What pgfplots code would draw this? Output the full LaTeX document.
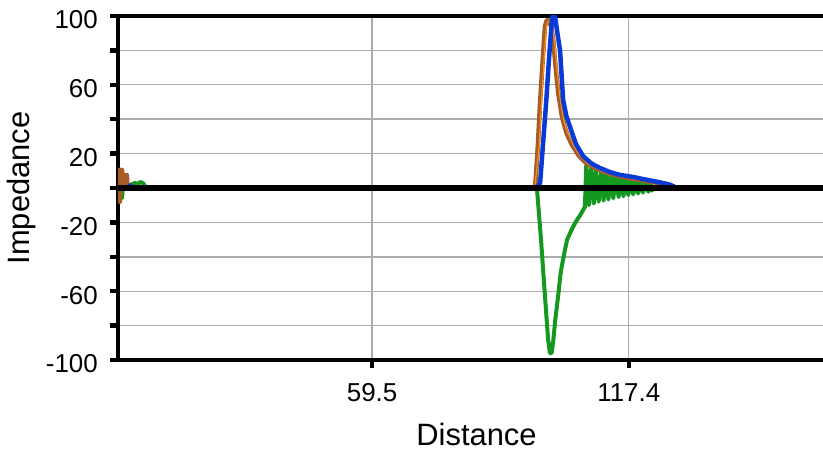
\documentclass[border=0pt]{standalone}
\usepackage{pgfplots}
\pgfplotsset{compat=1.18}
\usepackage{fontspec}
\setmainfont{Liberation Sans}
\definecolor{cblue}{RGB}{8,58,215}
\definecolor{cbrown}{RGB}{165,92,38}
\definecolor{cgreen}{RGB}{20,152,32}
\definecolor{corange}{RGB}{255,145,20}
\definecolor{cgrid}{RGB}{172,172,172}
\begin{document}
\begin{tikzpicture}
\begin{axis}[
  scale only axis,
  width=705bp, height=344bp,
  xmin=2.2, xmax=161.2,
  ymin=-100, ymax=100,
  axis x line=box, axis y line=left,
  x axis line style={-, line width=4.5bp},
  y axis line style={-, line width=4.5bp},
  xtick={59.5,117.4}, xticklabels={59.5,117.4},
  ytick={-100,-80,-60,-40,-20,0,20,40,60,80,100},
  yticklabels={-100,,-60,,-20,,20,,60,,100},
  /pgf/number format/assume math mode=true,
  tick align=outside,
  major tick length=8bp,
  tick style={black, line width=4.5bp},
  xtick pos=bottom, ytick pos=left,
  grid=major,
  major grid style={cgrid, line width=1.4bp},
  tick label style={font=\fontsize{26}{31}\selectfont, inner sep=0pt},
  yticklabel style={xshift=-12bp, yshift=-4bp},
  xticklabel style={yshift=-15bp},
  xlabel={Distance}, ylabel={Impedance},
  label style={font=\fontsize{31}{37}\selectfont},
  xlabel style={at={(rel axis cs:0.5,0)}, anchor=base, yshift=-85bp, xshift=6bp},
  ylabel style={at={(rel axis cs:0,0.5)}, anchor=center, yshift=96bp},
  clip=true,
]
% green
\addplot[cgreen, line width=4bp, line join=round] coordinates {
 (2.2,0) (3.0,0) (3.1,-6) (3.3,0) (4.9,1.7) (6.0,2.9) (6.7,2.3) (7.2,3.5) (7.8,2.9) (8.3,1.2) (8.6,0)
 (96.3,0) (96.7,-1) (97.6,-30) (98.5,-63) (99.2,-88) (99.6,-96) (100.0,-96) (100.4,-88) (100.8,-77) (101.5,-62)
 (102.0,-50) (102.4,-44) (103.0,-36) (103.5,-30) (104.2,-26) (104.8,-22.7) (105.6,-19) (106.4,-16) (107.1,-12.8)
 (107.5,-11) (107.8,13) (108.4,-10) (108.9,12) (109.5,-9) (110.0,11) (110.6,-8) (111.2,10) (111.7,-7.3)
 (112.3,9) (112.8,-6.7) (113.4,8.2) (113.9,-6) (114.5,7.5) (115.1,-5.3) (115.6,6.8) (116.2,-4.8) (116.7,6.2)
 (117.3,-4.2) (117.9,5.6) (118.4,-3.7) (119.0,5) (119.5,-3.2) (120.1,4.4) (120.6,-2.7) (121.2,3.8) (121.8,-2.2)
 (122.3,3) (122.6,-1.5) (123.0,0) (161.2,0)
};
% brown
\addplot[cbrown, line width=4.5bp, line join=round] coordinates {
 (2.2,-8) (2.4,10.5) (2.6,-8) (2.8,10.5) (3.0,0) (3.1,10.5) (3.3,0) (3.4,7.5) (3.7,0) (3.8,7.5) (4.1,0) (4.2,7.5) (4.3,0)
 (95.8,0) (96.3,1) (96.9,25) (97.4,50) (98.0,75) (98.5,94) (98.9,97.5) (99.3,97.5) (99.9,94) (100.4,85) (100.8,73)
 (101.5,55) (102.3,42) (103.0,35) (103.5,31) (104.6,25) (106.2,18.5) (108,14) (110.9,10.3) (113.2,8.3)
 (115.4,6.8) (118,5.4) (121,4.2) (124,2.9) (126.5,1.5) (127.5,0) (161.2,0)
};
% orange thin
\addplot[corange, line width=1.1bp, line join=round] coordinates {
 (96.2,0) (97.2,25) (97.7,50) (98.3,75) (98.8,94) (99.2,97) (99.6,97) (100.2,93) (100.7,84) (101.1,72)
 (101.8,54) (102.6,41) (103.3,34) (104.0,30) (105,24.5) (106.6,18) (108.4,13.6) (111.2,10) (113.6,8)
 (116,6.5) (119,5.1) (122,3.8) (125,2.5) (127.8,0.5) (128,0)
};
% blue
\addplot[cblue, line width=4.5bp, line join=round] coordinates {
 (2.2,0) (4.5,0) (4.9,1.5) (5.3,0)
 (96.7,0) (97.4,3) (98.1,27) (98.8,51) (99.4,75) (100.1,99) (100.5,101) (100.8,99) (101.3,90) (101.9,80)
 (102.3,63) (102.6,51) (103.3,42) (104.6,32) (105.5,25.5) (107.1,18.5) (109,14.2) (110.9,11.6) (113.2,9.2)
 (115.4,7.6) (118.4,6.4) (121,5) (124,3.5) (126.5,2.1) (127.5,1) (128.1,0) (161.2,0)
};
\draw[black, line width=5.5bp] (rel axis cs:0,0.5) -- (rel axis cs:1,0.5);
\end{axis}
\pgfresetboundingbox
\path[use as bounding box] (-118bp,-93bp) rectangle (705bp,360bp);
\end{tikzpicture}
\end{document}
